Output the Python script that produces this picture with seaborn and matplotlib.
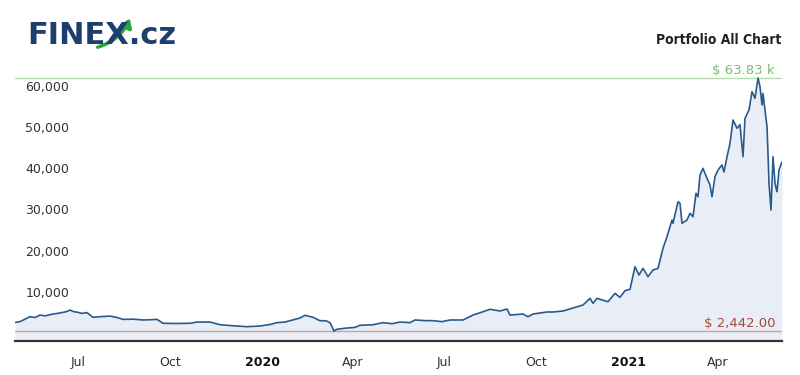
import matplotlib
matplotlib.use("Agg")
import matplotlib.pyplot as plt
import pandas as pd
import seaborn as sns
from matplotlib.patches import FancyArrowPatch

# ---------------- data ----------------
dates = [
    "2019-04-29", "2019-05-04", "2019-05-09", "2019-05-14", "2019-05-19", "2019-05-24",
    "2019-05-29", "2019-06-06", "2019-06-13", "2019-06-19", "2019-06-23", "2019-06-27",
    "2019-06-30", "2019-07-05", "2019-07-10", "2019-07-16", "2019-07-23", "2019-08-02",
    "2019-08-09", "2019-08-15", "2019-08-25", "2019-09-04", "2019-09-11", "2019-09-18",
    "2019-09-24", "2019-10-06", "2019-10-21", "2019-10-28", "2019-11-10", "2019-11-20",
    "2019-12-03", "2019-12-17", "2019-12-30", "2020-01-09", "2020-01-16", "2020-01-24",
    "2020-01-29", "2020-02-08", "2020-02-13", "2020-02-21", "2020-02-28", "2020-03-05",
    "2020-03-09", "2020-03-13", "2020-03-16", "2020-03-26", "2020-04-03", "2020-04-08",
    "2020-04-21", "2020-05-01", "2020-05-10", "2020-05-18", "2020-05-28", "2020-06-02",
    "2020-06-12", "2020-06-20", "2020-06-29", "2020-07-07", "2020-07-20", "2020-07-25",
    "2020-07-30", "2020-08-09", "2020-08-16", "2020-08-26", "2020-09-02", "2020-09-05",
    "2020-09-18", "2020-09-23", "2020-09-28", "2020-10-12", "2020-10-18", "2020-10-28",
    "2020-11-06", "2020-11-17", "2020-11-24", "2020-11-27", "2020-12-01", "2020-12-04",
    "2020-12-12", "2020-12-19", "2020-12-24", "2020-12-29", "2021-01-03", "2021-01-08",
    "2021-01-12", "2021-01-16", "2021-01-21", "2021-01-26", "2021-01-31", "2021-02-05",
    "2021-02-09", "2021-02-14", "2021-02-15", "2021-02-20", "2021-02-22", "2021-02-24",
    "2021-03-01", "2021-03-04", "2021-03-07", "2021-03-10", "2021-03-12", "2021-03-14",
    "2021-03-17", "2021-03-21", "2021-03-24", "2021-03-26", "2021-03-29", "2021-04-01",
    "2021-04-05", "2021-04-07", "2021-04-10", "2021-04-13", "2021-04-16", "2021-04-20",
    "2021-04-23", "2021-04-26", "2021-04-28", "2021-05-02", "2021-05-05", "2021-05-08",
    "2021-05-11", "2021-05-13", "2021-05-15", "2021-05-16", "2021-05-20", "2021-05-21",
    "2021-05-22", "2021-05-24", "2021-05-26", "2021-05-28", "2021-05-30", "2021-06-01",
    "2021-06-04",
]
values = [
    4500, 4700, 5300, 5900, 5700, 6300,
    6100, 6550, 6800, 7100, 7500, 7100,
    7000, 6700, 6900, 5750, 5900, 6050,
    5700, 5250, 5300, 5100, 5150, 5250,
    4300, 4250, 4300, 4600, 4600, 3950,
    3700, 3470, 3640, 4000, 4450, 4600,
    4930, 5580, 6240, 5750, 4930, 4900,
    4450, 2442, 2850, 3150, 3300, 3800,
    3950, 4450, 4200, 4600, 4450, 5100,
    4950, 4930, 4700, 5100, 5100, 5700,
    6300, 7100, 7700, 7280, 7770, 6300,
    6550, 5900, 6550, 7040, 7040, 7280,
    7930, 8740, 10360, 9150, 10360, 10120,
    9540, 11570, 10600, 12210, 12540, 18040,
    16020, 17640, 15600, 17230, 17640, 22500,
    25310, 29370, 28560, 33810, 33410, 28560,
    29370, 31000, 30160, 35850, 35020, 40290,
    41900, 39490, 37860, 35020, 39880, 41500,
    42720, 41000, 44730, 47980, 53640, 51620,
    52500, 44730, 54050, 56070, 60510, 58900,
    63830, 61720, 57280, 60110, 52000, 45550,
    38270, 31800, 44730, 38270, 36230, 41500,
    43500,
]
x_tick_dates = ["2019-07-01", "2019-10-01", "2020-01-01", "2020-04-01",
                "2020-07-01", "2020-10-01", "2021-01-01", "2021-04-01"]
x_tick_labels = ["Jul", "Oct", "2020", "Apr", "Jul", "Oct", "2021", "Apr"]
x_bold_labels = ["2020", "2021"]
y_tick_values = [0, 10000, 20000, 30000, 40000, 50000, 60000]
y_tick_labels = ["0", "10,000", "20,000", "30,000", "40,000", "50,000", "60,000"]
max_value = 63830
min_value = 2442
max_label = "$ 63.83 k"
min_label = "$ 2,442.00"
title = "Portfolio All Chart"
logo_text = "FINEX.cz"
x_start, x_end = "2019-04-29", "2021-06-04"

# ---------------- style ----------------
sns.set_theme(style="white")
plt.rcParams["font.family"] = ["DejaVu Sans"]

W, H = 800, 375
fig = plt.figure(figsize=(W / 100, H / 100), dpi=100)
fig.patch.set_facecolor("white")
ax = fig.add_axes([15 / W, (H - 341) / H, (782 - 15) / W, (341 - 70) / H])
ax.set_facecolor("white")

df = pd.DataFrame({"date": pd.to_datetime(dates), "value": values})
line_color = "#2a5a8c"
fill_color = "#e9eef6"

ax.fill_between(df["date"], df["value"], 0, color=fill_color, lw=0, zorder=1)
sns.lineplot(data=df, x="date", y="value", ax=ax, color=line_color,
             linewidth=1.2, zorder=3)

ax.set_xlim(pd.Timestamp(x_start), pd.Timestamp(x_end))
ax.set_ylim(0, (341 - 70) / 41.2 * 10000)

# max / min reference lines
ax.axhline(max_value, color="#b5dcae", lw=1.0, zorder=2)
ax.axhline(min_value, color="#c9a09b", lw=1.0, zorder=2)
ax.text(0.991, max_value + 250, max_label, transform=ax.get_yaxis_transform(),
        ha="right", va="bottom", fontsize=9.5, color="#7dba78")
ax.text(0.991, min_value + 250, min_label, transform=ax.get_yaxis_transform(),
        ha="right", va="bottom", fontsize=9.5, color="#a44a42")

# axes cosmetics
for s in ["top", "left", "right"]:
    ax.spines[s].set_visible(False)
ax.spines["bottom"].set_color("#333333")
ax.spines["bottom"].set_linewidth(1.6)
ax.spines["bottom"].set_zorder(5)
ax.grid(False)
ax.set_xlabel("")
ax.set_ylabel("")

ax.set_yticks(y_tick_values)
ax.set_yticklabels(y_tick_labels)
ax.tick_params(axis="y", length=0, pad=-7.5, labelsize=9, labelcolor="#333333")
for lab in ax.get_yticklabels():
    lab.set_horizontalalignment("left")
    lab.set_verticalalignment("bottom")
    lab.set_zorder(6)

ax.set_xticks(pd.to_datetime(x_tick_dates))
ax.set_xticklabels(x_tick_labels)
ax.tick_params(axis="x", length=0, pad=11, labelsize=9, labelcolor="#333333")
for lab in ax.get_xticklabels():
    if lab.get_text() in x_bold_labels:
        lab.set_fontweight("bold")
        lab.set_color("#111111")

# title
fig.text(781 / W, 1 - 40 / H, title, ha="right", va="center", fontsize=10,
         fontweight="bold", fontstretch="condensed", color="#222222",
         family=["DejaVu Sans"])

# logo
fig.text(27 / W, 1 - 36 / H, logo_text, ha="left", va="center", fontsize=22,
         fontweight="bold", color="#1d3f6e")
arrow = FancyArrowPatch((95 / W, 1 - 48 / H), (131 / W, 1 - 16 / H),
                        transform=fig.transFigure, connectionstyle="arc3,rad=0.25",
                        arrowstyle="-|>,head_length=5,head_width=3.5",
                        color="#2aa33b", lw=2.5, mutation_scale=1)
fig.patches.append(arrow)

fig.savefig("out.png", dpi=100, facecolor="white")
